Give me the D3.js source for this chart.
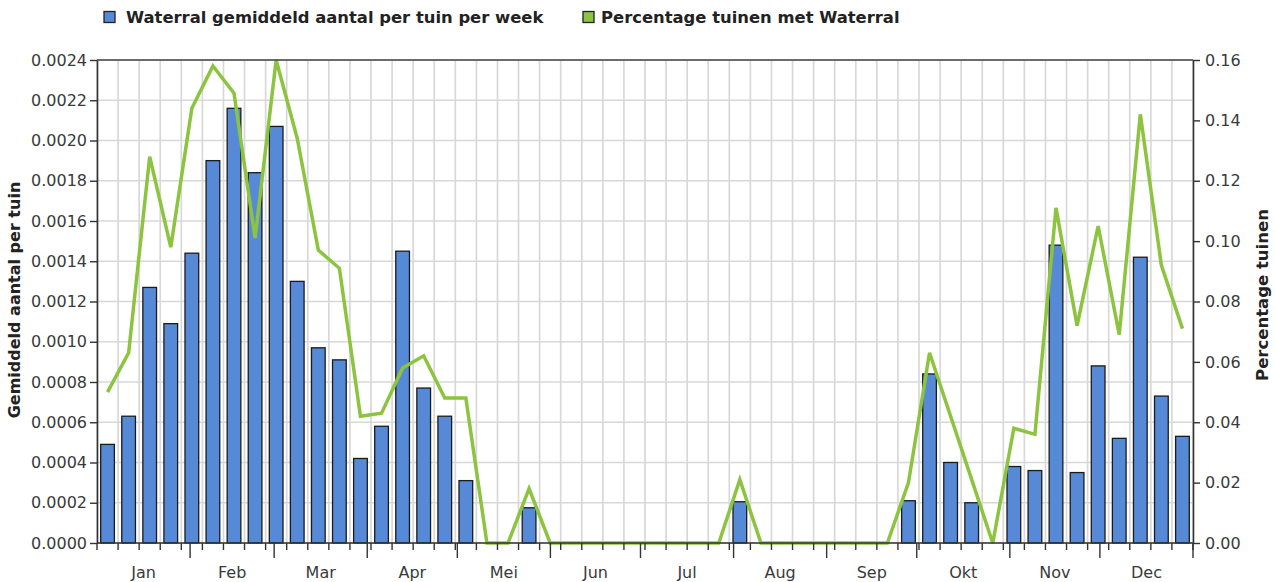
<!DOCTYPE html>
<html>
<head>
<meta charset="utf-8">
<script src="https://cdn.jsdelivr.net/npm/d3@7"></script>
<style>
  html, body { margin: 0; padding: 0; background: #fff; }
  svg { display: block; }
  text { font-family: "DejaVu Sans", Verdana, sans-serif; }
</style>
</head>
<body>
<svg id="chart" width="1275" height="582"></svg>
<script>
// ---- data ----
const weeks = d3.range(1, 53);
const barValues = [
  0.00049, 0.00063, 0.00127, 0.00109, 0.00144, 0.00190, 0.00216, 0.00184, 0.00207, 0.00130,
  0.00097, 0.00091, 0.00042, 0.00058, 0.00145, 0.00077, 0.00063, 0.00031, 0, 0,
  0.000175, 0, 0, 0, 0, 0, 0, 0, 0, 0,
  0.000205, 0, 0, 0, 0, 0, 0, 0, 0.00021, 0.00084,
  0.00040, 0.00020, 0, 0.00038, 0.00036, 0.00148, 0.00035, 0.00088, 0.00052, 0.00142,
  0.00073, 0.00053
];
const lineValues = [
  0.050, 0.063, 0.128, 0.098, 0.144, 0.158, 0.149, 0.101, 0.160, 0.134,
  0.097, 0.091, 0.042, 0.043, 0.058, 0.062, 0.048, 0.048, 0, 0,
  0.018, 0, 0, 0, 0, 0, 0, 0, 0, 0,
  0.021, 0, 0, 0, 0, 0, 0, 0, 0.020, 0.063,
  0.042, 0.021, 0, 0.038, 0.036, 0.111, 0.072, 0.105, 0.069, 0.142,
  0.092, 0.071
];
const monthLabels = ["Jan","Feb","Mar","Apr","Mei","Jun","Jul","Aug","Sep","Okt","Nov","Dec"];
const monthStartDays = [0, 31, 59, 90, 120, 151, 181, 212, 243, 273, 304, 334, 365];
const leftTicks = [0, 0.0002, 0.0004, 0.0006, 0.0008, 0.0010, 0.0012, 0.0014, 0.0016, 0.0018, 0.0020, 0.0022, 0.0024];
const rightTicks = [0, 0.02, 0.04, 0.06, 0.08, 0.10, 0.12, 0.14, 0.16];
const legendLabels = ["Waterral gemiddeld aantal per tuin per week", "Percentage tuinen met Waterral"];
const leftTitle = "Gemiddeld aantal per tuin";
const rightTitle = "Percentage tuinen";

// ---- layout ----
const L = 97, R = 1193, T = 60, B = 543;
const barColor = "#5689d6", lineColor = "#8cc43f";
const svg = d3.select("#chart");

const x = d3.scaleBand().domain(weeks).range([L, R]).paddingInner(0.35).paddingOuter(0.175);
const xDay = d3.scaleLinear().domain([0, 365]).range([L, R]);
const yL = d3.scaleLinear().domain([0, 0.0024]).range([B, T]);
const yR = d3.scaleLinear().domain([0, 0.16]).range([B, T]);

// grid
const grid = svg.append("g");
const step = x.step();
const boundaries = d3.range(0, weeks.length + 1).map(i => L + step * i);
grid.selectAll("line.v").data(boundaries).join("line")
  .attr("x1", d => d).attr("x2", d => d).attr("y1", T).attr("y2", B)
  .attr("stroke", "#d8d8d8").attr("stroke-width", 1.7);
grid.selectAll("line.h").data(leftTicks).join("line")
  .attr("x1", L).attr("x2", R).attr("y1", d => yL(d)).attr("y2", d => yL(d))
  .attr("stroke", "#d8d8d8").attr("stroke-width", 1.7);

// bars
svg.append("g").selectAll("rect").data(weeks.map((w, i) => ({w, v: barValues[i]})).filter(d => d.v > 0))
  .join("rect")
  .attr("x", d => x(d.w)).attr("width", x.bandwidth())
  .attr("y", d => yL(d.v)).attr("height", d => B - yL(d.v))
  .attr("fill", barColor).attr("stroke", "#1b1b1b").attr("stroke-width", 1.3);

// line
const line = d3.line().x((d, i) => x(weeks[i]) + x.bandwidth() / 2).y(d => yR(d));
svg.append("path").datum(lineValues).attr("d", line)
  .attr("fill", "none").attr("stroke", lineColor).attr("stroke-width", 3.5)
  .attr("stroke-linejoin", "miter");

// top border
svg.append("line").attr("x1", L).attr("x2", R).attr("y1", T).attr("y2", T)
  .attr("stroke", "#444").attr("stroke-width", 1.5);

// axes
function styleAxis(g) {
  g.select(".domain").attr("stroke", "#333").attr("stroke-width", 1.6);
  g.selectAll(".tick line").attr("stroke", "#333").attr("stroke-width", 1.4);
  g.selectAll(".tick text").attr("fill", "#3a3a3a").style("font-size", "16px")
    .style("font-family", "'DejaVu Sans', Verdana, sans-serif");
}
svg.append("g").attr("transform", `translate(${L},0)`)
  .call(d3.axisLeft(yL).tickValues(leftTicks).tickFormat(d3.format(".4f")).tickSize(7).tickPadding(3).tickSizeOuter(0))
  .call(styleAxis);
svg.append("g").attr("transform", `translate(${R},0)`)
  .call(d3.axisRight(yR).tickValues(rightTicks).tickFormat(d3.format(".2f")).tickSize(7).tickPadding(5).tickSizeOuter(0))
  .call(styleAxis);

// x axis: small ticks at week boundaries, long ticks at month starts
const xg = svg.append("g");
xg.append("line").attr("x1", L).attr("x2", R).attr("y1", B).attr("y2", B)
  .attr("stroke", "#333").attr("stroke-width", 1.6);
xg.selectAll("line.wk").data(boundaries).join("line").attr("class", "wk")
  .attr("x1", d => d).attr("x2", d => d).attr("y1", B).attr("y2", B + 7)
  .attr("stroke", "#333").attr("stroke-width", 1.4);
xg.selectAll("line.mo").data(monthStartDays.slice(1)).join("line").attr("class", "mo")
  .attr("x1", d => xDay(d)).attr("x2", d => xDay(d)).attr("y1", B).attr("y2", B + 15)
  .attr("stroke", "#333").attr("stroke-width", 1.4);
xg.selectAll("text").data(monthLabels).join("text")
  .attr("x", (d, i) => xDay((monthStartDays[i] + monthStartDays[i + 1]) / 2))
  .attr("y", 578).attr("text-anchor", "middle")
  .attr("fill", "#3a3a3a").style("font-size", "16px").text(d => d);

// axis titles
svg.append("text").attr("transform", "translate(20,300) rotate(-90)")
  .attr("text-anchor", "middle").attr("fill", "#222")
  .style("font-size", "16px").style("font-weight", "bold").text(leftTitle);
svg.append("text").attr("transform", "translate(1268,295) rotate(-90)")
  .attr("text-anchor", "middle").attr("fill", "#222")
  .style("font-size", "16.5px").style("font-weight", "bold").text(rightTitle);

// legend
const legendItems = [
  {label: legendLabels[0], color: barColor, sx: 104, tx: 126},
  {label: legendLabels[1], color: lineColor, sx: 583, tx: 601}
];
const lg = svg.append("g");
legendItems.forEach(it => {
  lg.append("rect").attr("x", it.sx).attr("y", 11.5).attr("width", 11).attr("height", 11)
    .attr("fill", it.color).attr("stroke", "#222").attr("stroke-width", 1.3);
  lg.append("text").attr("x", it.tx).attr("y", 23).attr("fill", "#222")
    .style("font-size", "16.4px").style("font-weight", "bold").text(it.label);
});
</script>
</body>
</html>
